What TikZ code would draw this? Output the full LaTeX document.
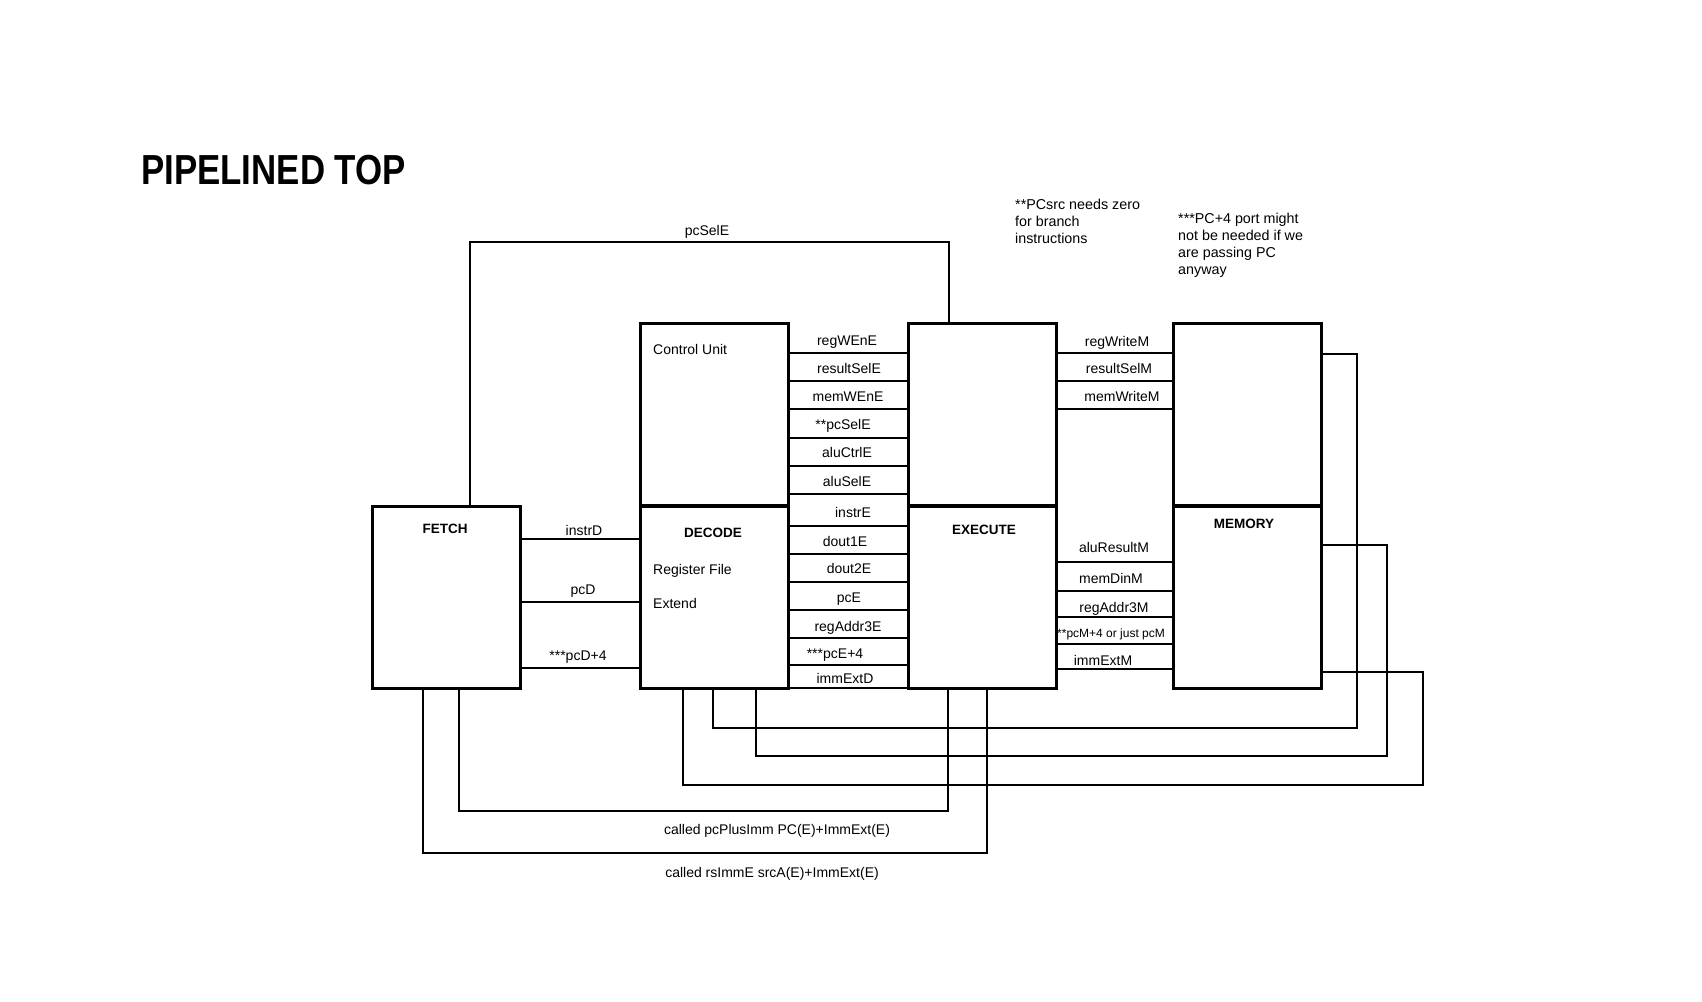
\documentclass[tikz,border=0pt]{standalone}
\usepackage{fontspec}
\setmainfont{Liberation Sans}
\usetikzlibrary{positioning}

\begin{document}
\begin{tikzpicture}[x=1pt,y=-1pt,
        stage/.style={draw,line width=3pt,minimum width=148pt,minimum height=182pt,inner sep=0pt},
        wire/.style={line width=2pt},
        sig/.style={font=\fontsize{14}{16}\selectfont,inner sep=0pt,text height=10pt,text depth=0pt},
        stagename/.style={font=\bfseries\fontsize{13.5}{16}\selectfont,inner sep=0pt,text height=9.7pt,text depth=0pt},
        note/.style={font=\fontsize{14.3}{17}\selectfont,align=left,anchor=north west,inner sep=0pt}]
        \useasboundingbox (0,0) rectangle (1702,1001);

        \node[anchor=west,inner sep=0pt,text height=30pt,text depth=0pt,font=\bfseries\fontsize{42}{42}\selectfont] (title) at (141,169) {\scalebox{0.83}[1]{PIPELINED TOP}};

        \node[stage] (fetch) at (446.5,597) {};
        \node[stage] (ctrl) at (714.5,414.5) {};
        \node[stage] (dec) at (714.5,597) {};
        \node[stage] (exeT) at (982,414.5) {};
        \node[stage] (exe) at (982,597) {};
        \node[stage] (memT) at (1247,414.5) {};
        \node[stage] (mem) at (1247,597) {};

        \node[stagename] (fetchname) at (445,529) {FETCH};
        \node[stagename] (decname) at (713,533) {DECODE};
        \node[stagename] (exename) at (984,530) {EXECUTE};
        \node[stagename] (memname) at (1244,524) {MEMORY};
        \node[sig,anchor=west] (cu) at (653,349) {Control Unit};
        \node[sig,anchor=west] (rf) at (653,569) {Register File};
        \node[sig,anchor=west] (ext) at (653,603) {Extend};

        % fetch to decode
        \foreach \y in {539,602,668}
            \draw[wire] (fetch.east |- 0,\y) -- (dec.west |- 0,\y);
        \node[sig] (instrD) at (584,530) {instrD};
        \node[sig] (pcD) at (583,589) {pcD};
        \node[sig] (pcDfour) at (578,655) {***pcD+4};

        % decode to execute
        \foreach \y in {353,381,409,438,466,494,526,554,582,610,638,665,688}
            \draw[wire] (ctrl.east |- 0,\y) -- (exeT.west |- 0,\y);
        \foreach \y/\x/\lab in {340/847/regWEnE,368/849/resultSelE,396/848/memWEnE,424/843/**pcSelE,
                452/847/aluCtrlE,481/847/aluSelE,512/853/instrE,541/845/dout1E,568/849/dout2E,
                597/849/pcE,626/848/regAddr3E,653/835/***pcE+4,678/845/immExtD}
            \node[sig] (de\y) at (\x,\y) {\lab};

        % execute to memory
        \foreach \y in {353,381,409,562,591,617,644,669}
            \draw[wire] (exeT.east |- 0,\y) -- (memT.west |- 0,\y);
        \foreach \y/\x/\lab in {341/1117/regWriteM,368/1119/resultSelM,396/1122/memWriteM,
                547/1114/aluResultM,578/1111/memDinM,607/1114/regAddr3M,660/1103/immExtM}
            \node[sig] (em\y) at (\x,\y) {\lab};
        \node[sig,anchor=west,font=\fontsize{12}{14}\selectfont,text height=8.6pt] (pcMfour) at (1057,633) {**pcM+4 or just pcM};

        % feedback
        \draw[wire] (fetch.north -| 470,0) -- (470,242) -| (exeT.north -| 949,0);
        \node[sig] (pcSel) at (707,230) {pcSelE};

        \draw[wire] (memT.east |- 0,354) -- (1357,354) |- (713,728) -- (dec.south -| 713,0);
        \draw[wire] (mem.east |- 0,545) -- (1387,545) |- (756,756) -- (dec.south -| 756,0);
        \draw[wire] (mem.east |- 0,672) -- (1423,672) |- (683,785) -- (dec.south -| 683,0);

        \draw[wire] (fetch.south -| 459,0) |- (948,811) -- (exe.south -| 948,0);
        \draw[wire] (fetch.south -| 423,0) |- (987,853) -- (exe.south -| 987,0);
        \node[sig] (pcPlusImm) at (777,829) {called pcPlusImm PC(E)+ImmExt(E)};
        \node[sig] (rsImm) at (772,872) {called rsImmE srcA(E)+ImmExt(E)};

        \node[note] (note1) at (1015,199) {**PCsrc needs zero\\for branch\\instructions};
        \node[note] (note2) at (1178,213) {***PC+4 port might\\not be needed if we\\are passing PC\\anyway};
      \end{tikzpicture}
\end{document}
